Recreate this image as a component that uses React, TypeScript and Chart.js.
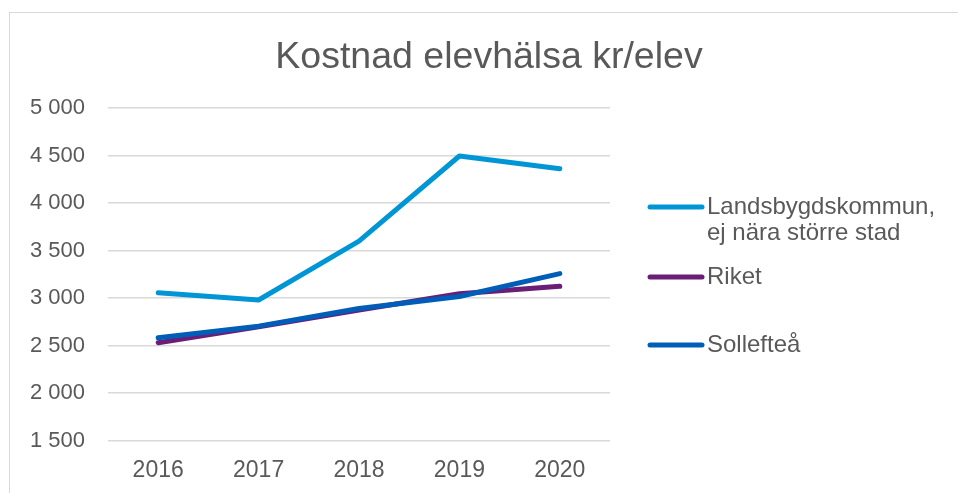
import React, { useEffect, useRef } from "react";
import { Chart, registerables } from "chart.js";

Chart.register(...registerables);

const years = ["2016", "2017", "2018", "2019", "2020"];
const landsbygd = [3057, 2980, 3600, 4495, 4362];
const riket = [2531, 2698, 2875, 3045, 3124];
const solleftea = [2582, 2705, 2890, 3017, 3258];
const seriesNames = ["Landsbygdskommun,\nej nära större stad", "Riket", "Sollefteå"];
const seriesColors = ["#0096D6", "#6A1E76", "#005EB8"];
const chartTitle = "Kostnad elevhälsa kr/elev";
const yMin = 1500;
const yMax = 5000;
const yStep = 500;

const FONT = "'Liberation Sans', Arial, sans-serif";
const TEXT = "#595959";

const W = 948;
const H = 478;

const overlayPlugin = {
  id: "overlay",
  afterDraw(chart: any) {
    const ctx = chart.ctx as CanvasRenderingContext2D;
    ctx.save();
    // title
    ctx.fillStyle = TEXT;
    ctx.font = `37.5px ${FONT}`;
    ctx.textAlign = "center";
    ctx.textBaseline = "alphabetic";
    ctx.fillText(chartTitle, 479, 55);
    // legend
    const itemY = [194, 264, 332];
    ctx.font = `24px ${FONT}`;
    ctx.textAlign = "left";
    ctx.textBaseline = "middle";
    chart.data.datasets.forEach((ds: any, i: number) => {
      const y = itemY[i];
      ctx.strokeStyle = ds.borderColor;
      ctx.lineWidth = 5;
      ctx.lineCap = "round";
      ctx.beginPath();
      ctx.moveTo(640, y);
      ctx.lineTo(692, y);
      ctx.stroke();
      ctx.fillStyle = TEXT;
      const lines = String(ds.label).split("\n");
      lines.forEach((ln, k) => ctx.fillText(ln, 697, y + k * 26));
    });
    ctx.restore();
  },
};

export default function App() {
  const ref = useRef<HTMLCanvasElement | null>(null);
  useEffect(() => {
    if (!ref.current) return;
    const series = [landsbygd, riket, solleftea];
    const orders = [2, 1, 0];
    const chart = new Chart(ref.current, {
      type: "line",
      data: {
        labels: years,
        datasets: series.map((d, i) => ({
          label: seriesNames[i],
          data: d,
          borderColor: seriesColors[i],
          backgroundColor: seriesColors[i],
          borderWidth: 5,
          borderCapStyle: "round",
          borderJoinStyle: "round",
          pointRadius: 0,
          tension: 0,
          order: orders[i],
        })),
      },
      options: {
        responsive: false,
        animation: false,
        layout: { padding: { top: 95, right: 348, left: 0, bottom: 0 } },
        plugins: {
          legend: { display: false },
          title: { display: false },
          tooltip: { enabled: false },
        },
        scales: {
          x: {
            offset: true,
            grid: { display: false, offset: true },
            border: { display: false },
            ticks: {
              color: TEXT,
              font: { family: FONT, size: 23 },
              padding: 8,
              maxRotation: 0,
            },
            afterFit: (s: any) => {
              s.height = 50.3;
            },
          },
          y: {
            min: yMin,
            max: yMax,
            grid: { color: "#d9d9d9", lineWidth: 1.5, drawTicks: false },
            border: { display: false },
            ticks: {
              stepSize: yStep,
              color: TEXT,
              font: { family: FONT, size: 22 },
              padding: 23,
              callback: (v: any) => {
                const n = Number(v);
                const th = Math.floor(n / 1000);
                const rest = String(n % 1000).padStart(3, "0");
                return th > 0 ? `${th} ${rest}` : String(n);
              },
            },
            afterFit: (s: any) => {
              s.width = 98;
            },
          },
        },
      },
      plugins: [overlayPlugin],
    });
    return () => chart.destroy();
  }, []);

  return (
    <div style={{ position: "fixed", left: 0, top: 0, width: 958, height: 493, overflow: "hidden", background: "#fff" }}>
      <div
        style={{
          position: "absolute",
          left: 9,
          top: 12,
          width: 970,
          height: 500,
          border: "1px solid #d9d9d9",
          boxSizing: "border-box",
        }}
      >
        <canvas ref={ref} width={W} height={H} style={{ display: "block", width: W, height: H }} />
      </div>
    </div>
  );
}
